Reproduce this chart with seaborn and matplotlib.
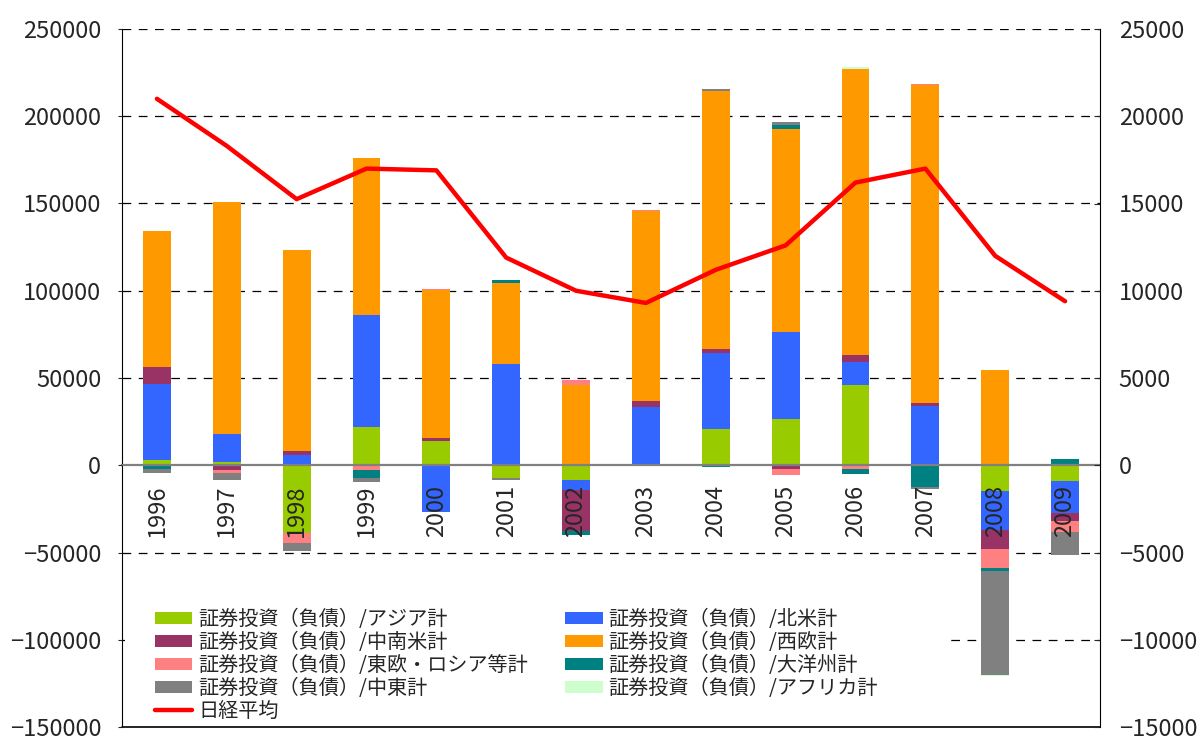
import numpy as np
import matplotlib
matplotlib.use("Agg")
import matplotlib.pyplot as plt
from matplotlib.patches import Rectangle
import seaborn as sns

# data
years = ["1996", "1997", "1998", "1999", "2000", "2001", "2002",
         "2003", "2004", "2005", "2006", "2007", "2008", "2009"]

asia = [3000, 1700, -39000, 21800, 13800, -7500, -8400, 300, 20600, 26600, 45900, 800, -14500, -8800]
north_america = [43600, 16100, 5700, 64200, -27000, 58000, -5700, 33000, 43600, 50000, 13100, 33200, -22400, -18300]
latin_america = [9600, -3000, 2300, 0, 1700, 0, -23300, 3400, 2300, -2000, 4000, 1500, -10900, -4600]
west_europe = [78300, 133000, 115300, 90000, 84800, 46300, 45900, 108900, 148000, 116000, 164000, 182500, 54500, 0]
east_europe = [-600, -1200, -5700, -2500, 500, 0, 2800, 500, -300, -3500, -2300, 300, -10900, -6300]
oceania = [-1800, 0, 0, -4800, 0, 1700, -2500, 0, -600, 2300, -2500, -12300, -1700, 3800]
middle_east = [-2000, -4300, -4600, -2100, 0, -1200, 0, 0, 1100, 1700, 0, -1500, -60000, -13200]
africa = [0, 0, 0, 0, 0, 0, -300, 0, 0, -300, 1000, 0, -500, -300]

nikkei = [21000, 18300, 15250, 17000, 16900, 11900, 10000, 9300, 11200, 12600, 16200, 17000, 12000, 9400]

series = [
    ("証券投資（負債）/アジア計", asia, "#99CC00"),
    ("証券投資（負債）/北米計", north_america, "#3366FF"),
    ("証券投資（負債）/中南米計", latin_america, "#993366"),
    ("証券投資（負債）/西欧計", west_europe, "#FF9900"),
    ("証券投資（負債）/東欧・ロシア等計", east_europe, "#FF8080"),
    ("証券投資（負債）/大洋州計", oceania, "#008080"),
    ("証券投資（負債）/中東計", middle_east, "#808080"),
    ("証券投資（負債）/アフリカ計", africa, "#CCFFCC"),
]

sns.set_style("white")
plt.rcParams["font.family"] = ["Noto Sans CJK JP", "DejaVu Sans"]

fig = plt.figure(figsize=(12, 7.37), dpi=100)
ax = fig.add_axes([122 / 1200, 10 / 737, 978 / 1200, 698 / 737])
ax2 = ax.twinx()

x = np.arange(len(years))
pos_base = np.zeros(len(years))
neg_base = np.zeros(len(years))
bars = {}
for name, vals, color in series:
    v = np.array(vals, dtype=float)
    bottom = np.where(v >= 0, pos_base, neg_base)
    bars[name] = ax.bar(x, v, width=0.4, bottom=bottom, color=color,
                        linewidth=0, label=name, zorder=1)
    pos_base += np.where(v > 0, v, 0)
    neg_base += np.where(v < 0, v, 0)

# left axis
yticks = np.arange(-150000, 250001, 50000)
ax.set_ylim(-150000, 250000)
ax.set_yticks(yticks)
ax.set_xlim(-0.5, len(years) - 0.5)
ax.grid(False)
ax.set_axisbelow(False)  # year labels sit on top of the bars
# dashed grid drawn behind the bars
for yv in yticks:
    if yv not in (0, -150000):
        ax.axhline(yv, color="black", linestyle=(0, (7, 6)), linewidth=0.9, zorder=0.5)

ax.spines["top"].set_visible(False)
ax.spines["bottom"].set_position(("data", 0))
ax.spines["bottom"].set_color("#808080")
ax.spines["bottom"].set_linewidth(1.6)
ax.spines["left"].set_color("black")
ax.spines["right"].set_visible(False)
ax.plot([0, 1], [0, 0], transform=ax.transAxes, color="black", lw=1.2, clip_on=False)

ax.set_xticks(x)
ax.set_xticklabels(years, rotation=90, va="top", ha="center")
ax.set_xticks(np.arange(-0.5, len(years), 1), minor=True)
ax.tick_params(axis="x", which="major", length=0, pad=14, labelsize=17)
ax.tick_params(axis="x", which="minor", direction="in", length=8, width=1.2, color="#606060")
ax.tick_params(axis="y", direction="out", length=3, pad=12, labelsize=17, left=True)

# right axis: Nikkei average
sns.lineplot(x=x, y=nikkei, ax=ax2, color="#FF0000", linewidth=3.2,
             label="日経平均", legend=False, zorder=6)
ax2.set_ylim(-15000, 25000)
ax2.set_yticks(np.arange(-15000, 25001, 5000))
ax2.tick_params(axis="y", direction="in", length=4, pad=13.5, labelsize=17, right=True)
for s in ["top", "left", "bottom"]:
    ax2.spines[s].set_visible(False)
ax2.spines["right"].set_color("black")
ax2.grid(False)

# white area behind the legend
ax.add_patch(Rectangle((0.003, 0.002), 0.845, 0.19, transform=ax.transAxes,
                       facecolor="white", edgecolor="none", zorder=5))

line_handle = ax2.get_lines()[0]
order = [series[0][0], series[2][0], series[4][0], series[6][0], None,
         series[1][0], series[3][0], series[5][0], series[7][0]]
handles, labels = [], []
for name in order:
    if name is None:
        handles.append(line_handle)
        labels.append("日経平均")
    else:
        handles.append(bars[name])
        labels.append(name)

ax2.legend(handles, labels, ncol=2, loc="upper left",
           bbox_to_anchor=(155 / 1200, 1 - 609 / 737), bbox_transform=fig.transFigure,
           frameon=False, fontsize=14.5, borderpad=0, borderaxespad=0,
           handlelength=1.85, handleheight=0.6, handletextpad=0.3,
           labelspacing=0.1, columnspacing=1.85)

fig.savefig("out.png", dpi=100)
